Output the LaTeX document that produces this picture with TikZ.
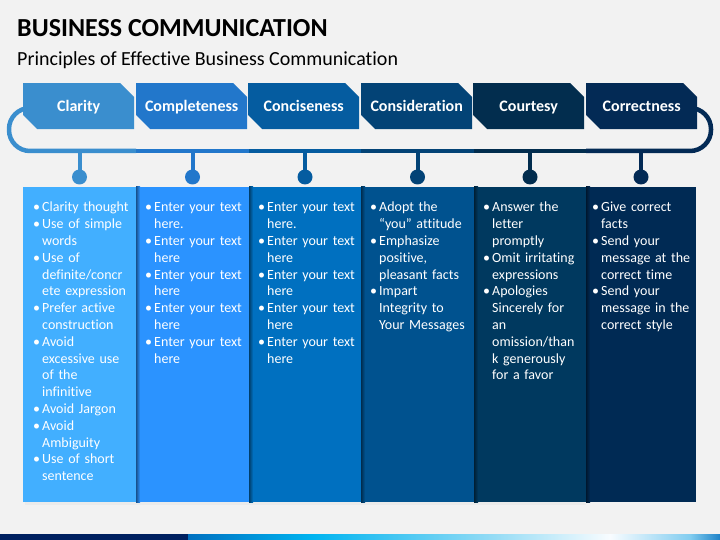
\documentclass[tikz,border=0pt]{standalone}
\usepackage{fontspec}
\setmainfont{Carlito}[Ligatures=NoCommon]
\usetikzlibrary{shapes.misc}
\definecolor{bg}{RGB}{242,242,242}
\definecolor{cA}{RGB}{66,175,255}
\definecolor{cB}{RGB}{43,147,255}
\definecolor{cC}{RGB}{0,112,192}
\definecolor{cD}{RGB}{0,82,143}
\definecolor{cE}{RGB}{0,57,95}
\definecolor{cF}{RGB}{0,42,84}
\definecolor{hA}{RGB}{58,142,206}
\definecolor{hB}{RGB}{34,119,203}
\definecolor{hC}{RGB}{5,92,160}
\definecolor{hD}{RGB}{3,67,118}
\definecolor{hE}{RGB}{2,45,78}
\definecolor{hF}{RGB}{3,42,85}
\definecolor{navy}{RGB}{0,32,96}
\definecolor{gA}{RGB}{0,112,192}
\definecolor{gB}{RGB}{0,180,240}
\definecolor{gC}{RGB}{150,220,245}
\definecolor{gD}{RGB}{248,252,255}
\definecolor{gE}{RGB}{130,205,240}
\definecolor{gF}{RGB}{30,130,200}
\newcommand{\bitem}[1]{\par\hangindent=9pt\hangafter=1\noindent\makebox[9pt][l]{\textbullet}\rule{0pt}{12pt}#1\par}
\begin{document}
\begin{tikzpicture}[x=1pt,y=-1pt,
  hdr/.style={chamfered rectangle, chamfered rectangle corners={north east,south west},
    chamfered rectangle xsep=7pt, chamfered rectangle ysep=7pt,
    minimum width=111pt, minimum height=46pt, inner sep=0pt, anchor=north west,
    text height=12pt, text depth=2pt,
    text=white, font=\fontsize{16}{19}\selectfont\bfseries},
  colbox/.style={rectangle, minimum width=113pt, minimum height=315pt, inner sep=0pt, anchor=north west},
  txt/.style={anchor=north west, inner sep=0pt, text width=104pt, text=white,
    font=\fontsize{14}{16.8}\selectfont},
  rail/.style={line width=4.5pt},
  stem/.style={line width=4pt},
  dot/.style={circle, minimum size=15pt, inner sep=0pt}]
\useasboundingbox (0,0) rectangle (720,540);
\fill[bg] (0,0) rectangle (720,540);

% title
\node[anchor=base west, inner sep=0pt, font=\fontsize{26}{30}\selectfont\bfseries] (title) at (17,37) {BUSINESS COMMUNICATION};
\node[anchor=base west, inner sep=0pt, font=\fontsize{20}{24}\selectfont] (subtitle) at (17,66) {Principles of Effective Business Communication};

% rail
\coordinate (rail) at (0,151);
\draw[rail, hA, rounded corners=21pt] (30,108) -- (9,108) -- (9,151) -- (136,151);
\draw[rail, hB] (136,151) -- (249,151);
\draw[rail, hC] (249,151) -- (361,151);
\draw[rail, hD] (361,151) -- (474,151);
\draw[rail, hE] (474,151) -- (586,151);
\draw[rail, hF, rounded corners=21pt] (586,151) -- (711,151) -- (711,108) -- (688,108);

% headers
\node[hdr, fill=hA] (h1) at (23,83) {Clarity};
\node[hdr, fill=hB] (h2) at (136,83) {Completeness};
\node[hdr, fill=hC] (h3) at (248,83) {Conciseness};
\node[hdr, fill=hD] (h4) at (361,83) {Consideration};
\node[hdr, fill=hE] (h5) at (473,83) {Courtesy};
\node[hdr, fill=hF] (h6) at (586,83) {Correctness};

% columns
\fill[black!8] (25,502) rectangle (586,505);
\node[colbox, fill=cA] (col1) at (23,187) {};
\node[colbox, fill=cB] (col2) at (136,187) {};
\node[colbox, fill=cC] (col3) at (249,187) {};
\node[colbox, fill=cD] (col4) at (361,187) {};
\node[colbox, fill=cE] (col5) at (474,187) {};
\node[colbox, fill=cF, minimum width=110pt] (col6) at (586,187) {};
\shade[left color=cB!55!black, right color=cB] (136,187) rectangle (140,502);
\shade[left color=cC!55!black, right color=cC] (249,187) rectangle (253,502);
\shade[left color=cD!55!black, right color=cD] (361,187) rectangle (365,502);
\shade[left color=cE!55!black, right color=cE] (474,187) rectangle (478,502);
\shade[left color=cF!55!black, right color=cF] (586,187) rectangle (590,502);

% dots and stems
\node[dot, fill=hA] (d1) at (79.5,177) {};
\node[dot, fill=hB] (d2) at (192.5,177) {};
\node[dot, fill=hC] (d3) at (305,177) {};
\node[dot, fill=hD] (d4) at (417.5,177) {};
\node[dot, fill=hE] (d5) at (530,177) {};
\node[dot, fill=hF] (d6) at (641,177) {};
\draw[stem, hA] (d1.center) -- (d1 |- rail);
\draw[stem, hB] (d2.center) -- (d2 |- rail);
\draw[stem, hC] (d3.center) -- (d3 |- rail);
\draw[stem, hD] (d4.center) -- (d4 |- rail);
\draw[stem, hE] (d5.center) -- (d5 |- rail);
\draw[stem, hF] (d6.center) -- (d6 |- rail);

% texts
\node[txt] (t1) at (33,195) {\bitem{Clarity thought}\bitem{Use of simple\newline words}\bitem{Use of\newline definite/concr\newline ete expression}\bitem{Prefer active\newline construction}\bitem{Avoid\newline excessive use\newline of the\newline infinitive}\bitem{Avoid Jargon}\bitem{Avoid\newline Ambiguity}\bitem{Use of short\newline sentence}};
\node[txt] (t2) at (145,195) {\bitem{Enter your text\newline here.}\bitem{Enter your text\newline here}\bitem{Enter your text\newline here}\bitem{Enter your text\newline here}\bitem{Enter your text\newline here}};
\node[txt] (t3) at (258,195) {\bitem{Enter your text\newline here.}\bitem{Enter your text\newline here}\bitem{Enter your text\newline here}\bitem{Enter your text\newline here}\bitem{Enter your text\newline here}};
\node[txt] (t4) at (370,195) {\bitem{Adopt the\newline “you” attitude}\bitem{Emphasize\newline positive,\newline pleasant facts}\bitem{Impart\newline Integrity to\newline Your Messages}};
\node[txt] (t5) at (483,195) {\bitem{Answer the\newline letter\newline promptly}\bitem{Omit irritating\newline expressions}\bitem{Apologies\newline Sincerely for\newline an\newline omission/than\newline k generously\newline for a favor}};
\node[txt] (t6) at (592,195) {\bitem{Give correct\newline facts}\bitem{Send your\newline message at the\newline correct time}\bitem{Send your\newline message in the\newline correct style}};

% bottom bar
\fill[navy] (0,534) rectangle (188,540);
\shade[left color=gA, right color=gB] (188,534) rectangle (313,540);
\shade[left color=gB, right color=gC] (313,534) rectangle (495,540);
\shade[left color=gC, right color=gD] (495,534) rectangle (610,540);
\shade[left color=gD, right color=gE] (610,534) rectangle (690,540);
\shade[left color=gE, right color=gF] (690,534) rectangle (720,540);
\end{tikzpicture}
\end{document}
